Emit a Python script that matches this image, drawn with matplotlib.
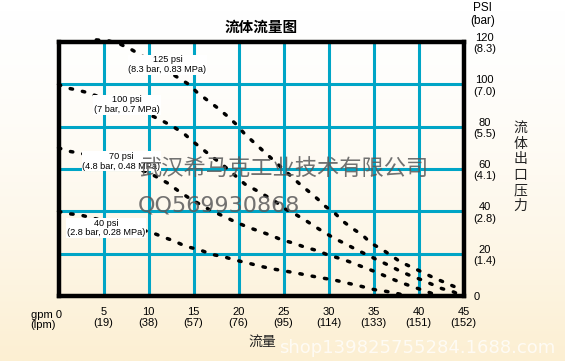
import matplotlib.pyplot as plt
import numpy as np
from matplotlib.colors import LinearSegmentedColormap

plt.rcParams['font.family'] = ['Liberation Sans', 'DejaVu Sans']

# axis ticks
gpm_ticks = [5, 10, 15, 20, 25, 30, 35, 40, 45]
lpm_ticks = [19, 38, 57, 76, 95, 114, 133, 151, 152]
psi_ticks = [0, 20, 40, 60, 80, 100, 120]
bar_ticks = ['', '(1.4)', '(2.8)', '(4.1)', '(5.5)', '(7.0)', '(8.3)']

# curves (flow in gpm, outlet pressure in psi)
flow_125 = [4.2, 5.6, 6.9, 8.2, 13.0, 14.4, 15.4, 16.6, 17.6, 18.7, 19.7, 20.7, 21.7, 22.7,
            26.8, 27.8, 28.8, 29.7, 30.8, 31.7, 32.7, 33.8, 34.7, 36.0, 38.0, 39.2, 40.4,
            41.5, 42.8, 43.9, 44.5]
psi_125 = [121.0, 120.5, 118.9, 116.2, 103.9, 100.2, 96.2, 92.3, 89.1, 85.2, 81.3, 76.5, 72.6, 68.7,
           52.9, 49.4, 45.8, 42.2, 38.7, 35.0, 31.8, 28.7, 25.0, 21.9, 16.1, 13.7, 11.3,
           9.0, 6.6, 4.6, 3.5]

flow_100 = [0.0, 0.8, 2.1, 3.2, 10.6, 11.7, 12.9, 14.0, 14.9, 16.0, 16.9, 17.9, 18.8, 20.7,
            21.9, 23.0, 24.2, 25.2, 26.4, 27.5, 28.5, 29.7, 30.8, 31.9, 33.1, 35.5, 36.7,
            37.8, 39.0, 40.3, 42.6, 43.9, 44.5]
psi_100 = [100.0, 98.4, 97.3, 96.1, 84.7, 82.4, 79.6, 76.5, 73.1, 69.4, 66.3, 63.1, 60.0, 52.9,
           50.1, 47.4, 44.3, 41.1, 38.4, 35.6, 32.8, 29.6, 26.9, 24.6, 21.9, 16.9, 14.5,
           12.1, 9.8, 7.7, 3.5, 1.9, 0.8]

flow_70 = [0.0, 1.0, 2.5, 9.7, 10.8, 12.1, 13.4, 14.5, 15.8, 17.1, 18.4, 19.5, 21.1, 22.4,
           23.7, 24.8, 26.2, 27.4, 28.8, 30.1, 31.4, 32.7, 34.0, 35.3, 36.7, 37.9, 39.2,
           40.3, 41.5]
psi_70 = [70.0, 68.5, 67.4, 58.8, 56.5, 53.4, 49.4, 46.3, 43.1, 40.0, 37.6, 35.3, 32.4, 30.5,
          28.5, 26.5, 24.9, 23.0, 21.4, 19.1, 17.6, 15.6, 13.4, 11.3, 8.7, 6.6, 4.6,
          3.0, 1.2]

flow_40 = [0.0, 1.0, 2.3, 10.3, 11.6, 12.9, 14.1, 15.6, 17.1, 18.4, 19.6, 21.2, 22.6, 23.8,
           25.3, 26.6, 27.9, 29.3, 30.6, 31.9, 33.6, 35.1, 36.4, 37.7, 38.5]
psi_40 = [40.0, 38.9, 38.4, 30.1, 27.9, 25.9, 23.5, 21.9, 19.6, 18.5, 17.0, 15.4, 13.9, 12.8,
          11.7, 10.7, 9.6, 8.5, 7.6, 6.3, 4.6, 3.0, 2.2, 1.1, 0.3]

curve_labels = ['125 psi\n(8.3 bar, 0.83 MPa)', '100 psi\n(7 bar, 0.7 MPa)',
                '70 psi\n(4.8 bar, 0.48 MPa)', '40 psi\n(2.8 bar, 0.28 MPa)']

grid_color = '#00a5c6'

fig = plt.figure(figsize=(5.65, 3.61), dpi=100)

# background: white fading to cream at the bottom
bg = fig.add_axes([0, 0, 1, 1], zorder=-10)
cmap = LinearSegmentedColormap.from_list('bg', ['#ffffff', '#fcefd2'])
grad = np.linspace(0, 1, 256) ** 1.6
bg.imshow(grad[:, None], aspect='auto', cmap=cmap, extent=[0, 1, 0, 1], origin='upper')
bg.axis('off')

W, H = 565, 361
left, right, top, bottom = 58.5, 463.5, 42, 296
ax = fig.add_axes([left / W, 1 - bottom / H, (right - left) / W, (bottom - top) / H])
ax.set_facecolor('none')
ax.set_xlim(0, 45)
ax.set_ylim(0, 120)

# grid
for g in gpm_ticks[:-1]:
    ax.axvline(g, color=grid_color, lw=2.2, zorder=1)
for p in psi_ticks[1:-1]:
    ax.axhline(p, color=grid_color, lw=2.2, zorder=1)

for s in ax.spines.values():
    s.set_linewidth(3.2)
    s.set_color('black')
    s.set_zorder(5)

dot = dict(color='black', lw=2.5, linestyle=(0, (0.7, 2.9)), dash_capstyle='round',
           zorder=3, clip_on=False)
ax.plot(flow_125, psi_125, **dot)
ax.plot(flow_100, psi_100, **dot)
ax.plot(flow_70, psi_70, **dot)
ax.plot(flow_40, psi_40, **dot)

label_xy = [(12.1, 109.3), (7.6, 90.4), (7.0, 63.6), (5.3, 32.2)]
for txt, (x, y) in zip(curve_labels, label_xy):
    ax.text(x, y, txt, ha='center', va='center', fontsize=6.6, linespacing=1.05,
            multialignment='center', zorder=4,
            bbox=dict(facecolor='white', edgecolor='none', pad=0.6))

# x ticks
ax.set_xticks(gpm_ticks)
ax.set_xticklabels([f'{g}\n({l})' for g, l in zip(gpm_ticks, lpm_ticks)],
                   fontsize=8, linespacing=1.05)
ax.tick_params(axis='x', length=0, pad=8)
ax.text(0.35, -6.5, 'gpm 0\n(lpm)', ha='right', va='top', fontsize=8, linespacing=1.0,
        multialignment='left')

# right y ticks
ax.yaxis.tick_right()
ax.set_yticks(psi_ticks)
ax.set_yticklabels([f'{p}\n{b}' if b else f'{p}' for p, b in zip(psi_ticks, bar_ticks)],
                   fontsize=8, linespacing=1.15)
for t in ax.get_yticklabels():
    t.set_multialignment('center')
    if t.get_text() != '0':
        t.set_y(t.get_position()[1])
ax.tick_params(axis='y', length=0, pad=7)

fig.text(482.7 / W, 1 - 14.5 / H, 'PSI\n(bar)', ha='center', va='center', fontsize=8.5,
         linespacing=1.1)

cjk = ['Noto Sans CJK SC', 'DejaVu Sans']
fig.text(261 / W, 1 - 27 / H, '流体流量图', ha='center', va='center', fontsize=10.5,
         fontweight='bold', family=cjk)
fig.text(520.5 / W, 1 - 167 / H, '\n'.join('流体出口压力'), ha='center', va='center',
         fontsize=10, linespacing=1.15, color='#222222', family=cjk)
fig.text(262 / W, 1 - 342 / H, '流量', ha='center', va='center', fontsize=10,
         color='#222222', family=cjk)

# watermarks
fig.text(139 / W, 1 - 169 / H, '武汉希马克工业技术有限公司', ha='left', va='center',
         fontsize=16, color='#5a5a5a', alpha=0.85, family=cjk, zorder=20)
fig.text(138 / W, 1 - 205 / H, 'QQ569930868', ha='left', va='center',
         fontsize=16, color='#5a5a5a', alpha=0.85, family=['DejaVu Sans'], zorder=20)
fig.text(279 / W, 1 - 348 / H, 'shop139825755284.1688.com', ha='left', va='center',
         fontsize=13, color='white', alpha=0.75, family=['DejaVu Sans'], zorder=20)

fig.savefig('out.png', dpi=100)
